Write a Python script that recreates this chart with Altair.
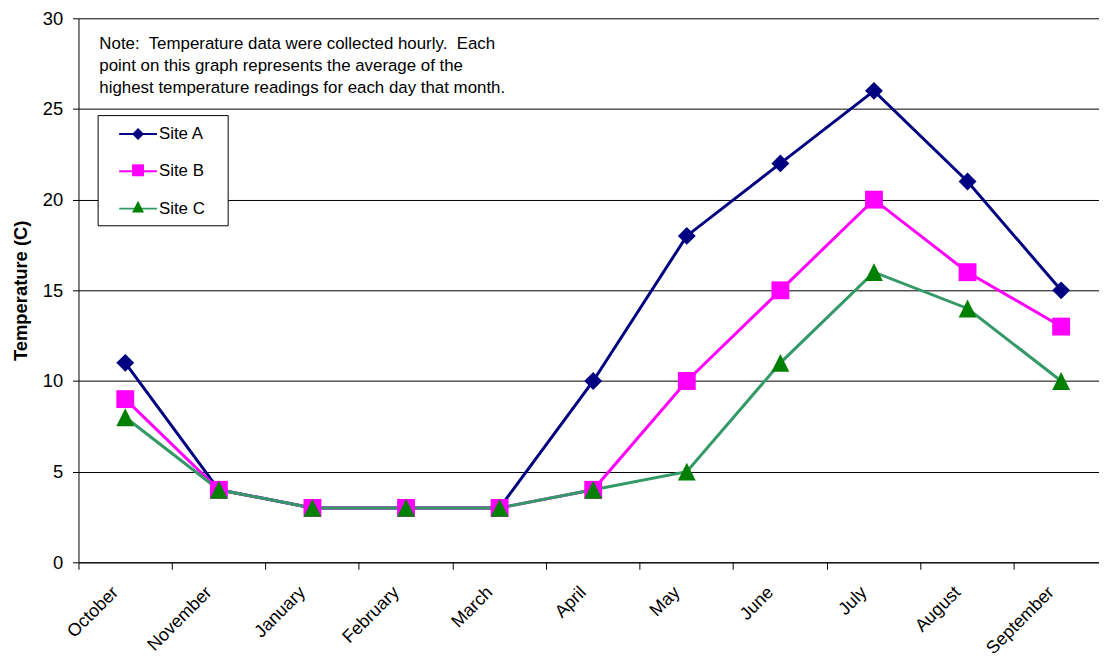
import altair as alt
import pandas as pd

MONTHS = ["October", "November", "January", "February", "March", "April",
          "May", "June", "July", "August", "September"]
SITES = ["Site A", "Site B", "Site C"]
SITE_A = [11, 4, 3, 3, 3, 10, 18, 22, 26, 21, 15]
SITE_B = [9, 4, 3, 3, 3, 4, 10, 15, 20, 16, 13]
SITE_C = [8, 4, 3, 3, 3, 4, 5, 11, 16, 14, 10]
Y_TICKS = [0, 5, 10, 15, 20, 25, 30]
NB = "\u00a0"
ZW = "\u200b"
NOTE_LINES = [
    f"Note:{NB} Temperature data were collected hourly.{NB} Each",
    "point on this graph represents the average of the",
    "highest temperature readings for each day that month.",
]
LINE_COLORS = ["#000080", "#FF00FF", "#339966"]
MARKER_COLORS = ["#000080", "#FF00FF", "#008000"]
MARKER_SHAPES = ["diamond", "square", "M0,-1L1,1L-1,1Z"]

rows = []
for site, vals in zip(SITES, [SITE_A, SITE_B, SITE_C]):
    for m, v in zip(MONTHS, vals):
        rows.append({"Month": m, "Site": site, "Series": site, "Temp": v})
df = pd.DataFrame(rows)

FONT = "Liberation Sans"
W, H = 1028, 548
RANGE_W = 1037

LEG_X, LEG_Y = 19.3, 97.5
ROW_PAD = 18.6

# legend 1: lines + labels + box
line_legend = alt.Legend(
    title=None, orient="none", legendX=LEG_X, legendY=LEG_Y,
    padding=8.5, rowPadding=ROW_PAD,
    symbolType="M-2,0H2", symbolSize=361, symbolStrokeWidth=2,
    symbolOffset=21.7, labelOffset=10.5,
    labelFont=FONT, labelFontSize=17, labelColor="black",
    strokeColor="black", fillColor="white",
    labelExpr=f"datum.label + '{NB}{NB}{NB}{ZW}'",
    zindex=1,
)
# legend 2: markers only, drawn on top of legend 1
marker_legend = alt.Legend(
    title=None, orient="none", legendX=LEG_X + 32.2, legendY=LEG_Y + 10.5,
    padding=0, rowPadding=ROW_PAD,
    symbolSize=144, symbolStrokeWidth=0, symbolOffset=0,
    labelFont=FONT, labelFontSize=17, labelOpacity=0,
    zindex=2,
)

x_enc = alt.X(
    "Month:N", sort=MONTHS,
    scale=alt.Scale(type="band", range=[0, RANGE_W], paddingInner=0, paddingOuter=0),
    axis=alt.Axis(
        title=None, bandPosition=0, labelOffset=-16, labelAngle=-45,
        labelAlign="right", labelBaseline="top", labelPadding=14,
        tickSize=7, tickColor="black", domainColor="black",
        labelFont=FONT, labelFontSize=18, labelColor="black",
        labelOverlap=False, grid=False,
    ),
)
y_enc = alt.Y(
    "Temp:Q", scale=alt.Scale(domain=[0, 30], nice=False),
    axis=alt.Axis(
        values=Y_TICKS, title="Temperature (C)", titleFont=FONT,
        titleFontSize=18.5, titleFontWeight="bold", titleColor="black",
        titlePadding=12, labelFont=FONT, labelFontSize=18.5,
        labelColor="black", labelPadding=10, tickSize=6,
        tickColor="black", domainColor="black", grid=True,
        gridColor="black", gridWidth=1, labelOverlap=False,
    ),
)

base = alt.Chart(df).encode(x=x_enc, y=y_enc)

lines = base.mark_line(strokeWidth=3).encode(
    stroke=alt.Stroke("Site:N", scale=alt.Scale(range=LINE_COLORS), legend=line_legend)
)
points = base.mark_point(filled=True, size=324, opacity=1, strokeWidth=0).encode(
    fill=alt.Fill("Series:N", scale=alt.Scale(range=MARKER_COLORS), legend=marker_legend),
    shape=alt.Shape("Series:N", scale=alt.Scale(range=MARKER_SHAPES), legend=marker_legend),
)
note = alt.Chart(pd.DataFrame({"t": [0]})).mark_text(
    text=NOTE_LINES, align="left", baseline="alphabetic", font=FONT,
    fontSize=17, lineHeight=22.5, color="black",
).encode(x=alt.value(21), y=alt.value(30.7))

chart = alt.layer(lines, points, note).properties(
    width=W, height=H,
    autosize=alt.AutoSizeParams(type="none"),
    padding={"left": 71, "top": 8, "right": 0, "bottom": 96},
).configure_view(stroke=None)

chart.save("out.html", embed_options={"renderer": "svg", "actions": False})
